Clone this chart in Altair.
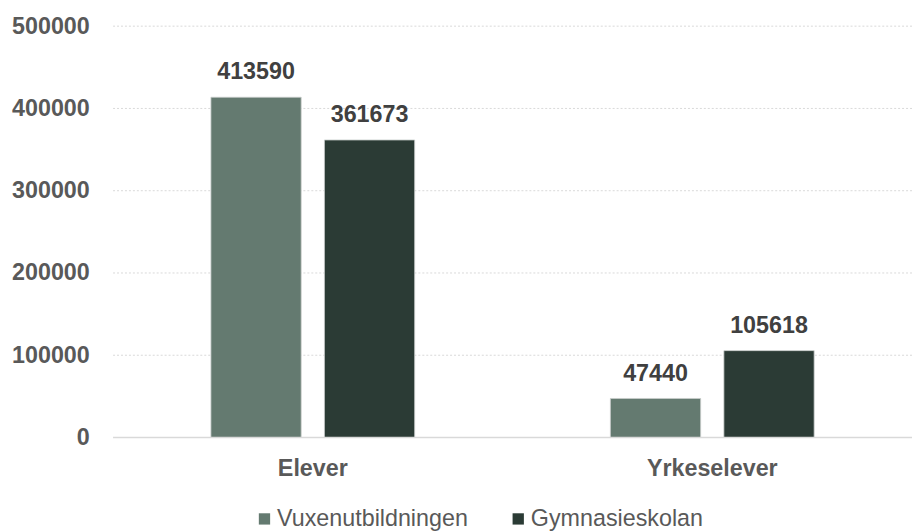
import altair as alt
import pandas as pd

categories = ["Elever", "Elever", "Yrkeselever", "Yrkeselever"]
series = ["Vuxenutbildningen", "Gymnasieskolan", "Vuxenutbildningen", "Gymnasieskolan"]
values = [413590, 361673, 47440, 105618]

series_order = ["Vuxenutbildningen", "Gymnasieskolan"]
colors = ["#647A70", "#2B3B35"]

df = pd.DataFrame({"kategori": categories, "serie": series, "antal": values})

FONT = "Liberation Sans"
FS = 23.5

x = alt.X("kategori:N", sort=["Elever", "Yrkeselever"],
          scale=alt.Scale(paddingInner=0.49, paddingOuter=0.245),
          axis=alt.Axis(title=None, labelAngle=0, labelFont=FONT, labelFontSize=FS,
                        labelFontWeight="bold", labelColor="#595959", labelPadding=19,
                        ticks=False, domain=False))
xo = alt.XOffset("serie:N", sort=series_order,
                 scale=alt.Scale(paddingInner=0.205, paddingOuter=0))
y = alt.Y("antal:Q", scale=alt.Scale(domain=[0, 500000]),
          axis=alt.Axis(title=None, values=[0, 100000, 200000, 300000, 400000, 500000],
                        format="d", labelFont=FONT, labelFontSize=FS, labelFontWeight="bold",
                        labelColor="#595959", labelPadding=24, ticks=False, domain=False,
                        grid=False))

grid = alt.Chart(pd.DataFrame({"v": [100000, 200000, 300000, 400000, 500000]})).mark_rule(
    color="#D9D9D9", strokeDash=[2, 2], strokeWidth=1
).encode(y=alt.Y("v:Q", scale=alt.Scale(domain=[0, 500000])))

bars = alt.Chart(df).mark_bar(stroke="#C8CCCA", strokeWidth=0.8).encode(
    x=x, xOffset=xo, y=y,
    color=alt.Color("serie:N", sort=series_order,
                    scale=alt.Scale(domain=series_order, range=colors),
                    legend=alt.Legend(title=None, orient="none", direction="horizontal",
                                      legendX=141, legendY=70 + 415, symbolType="square",
                                      symbolSize=130, symbolStrokeWidth=0,
                                      labelFont=FONT, labelFontSize=FS, labelLimit=400,
                                      labelColor="#595959", columnPadding=38,
                                      labelOffset=1))
)

text = alt.Chart(df).mark_text(baseline="alphabetic", dy=-18, font=FONT, fontSize=FS,
                               fontWeight="bold", color="#404040").encode(
    x=x, xOffset=xo, y=y, text=alt.Text("antal:Q", format="d"),
    detail="serie:N"
)

base = alt.Chart(pd.DataFrame({"v": [0]})).mark_rule(color="#D9D9D9", strokeWidth=1.5).encode(
    y=alt.Y("v:Q", scale=alt.Scale(domain=[0, 500000]))
)

chart = alt.layer(grid, bars, base, text).properties(
    width=806, height=415,
    autosize=alt.AutoSizeParams(type="none"),
    padding={"left": 106, "top": 16, "right": 0, "bottom": 95},
).configure_view(stroke=None)

chart.save("out.html", embed_options={"renderer": "svg", "actions": False})
